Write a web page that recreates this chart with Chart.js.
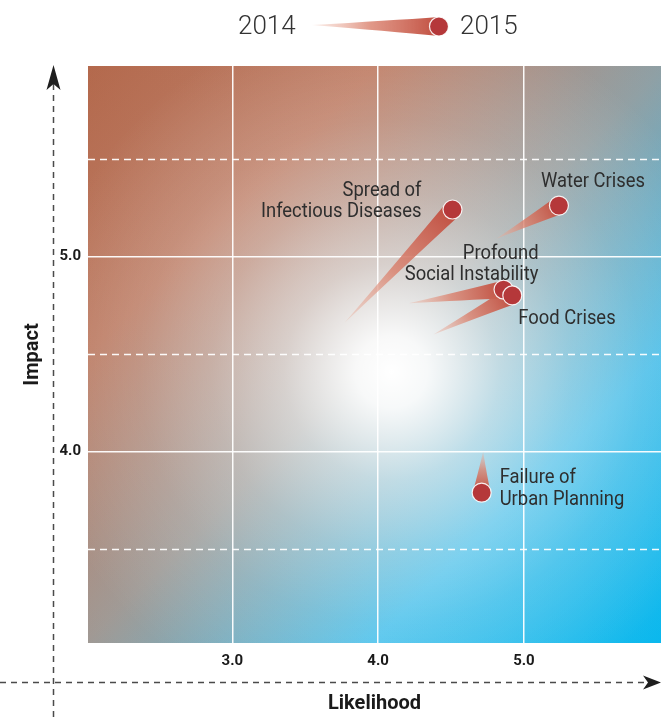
<!DOCTYPE html>
<html><head><meta charset="utf-8">
<script src="https://cdn.jsdelivr.net/npm/chart.js@4.4.1/dist/chart.umd.min.js"></script>
<style>html,body{margin:0;padding:0;background:#fff;overflow:hidden}#wrap{width:661px;height:717px;position:relative}canvas{display:block}</style>
</head><body><div id="wrap"><canvas id="c"></canvas></div>
<script>
// ---- data ----
const risks = [["Spread of", "Infectious Diseases"], ["Water Crises"], ["Profound", "Social Instability"], ["Food Crises"], ["Failure of", "Urban Planning"]];
const likelihood2014 = [3.77, 4.81, 4.21, 4.38, 4.72];
const impact2014     = [4.66, 5.09, 4.76, 4.60, 4.00];
const likelihood2015 = [4.51, 5.24, 4.86, 4.92, 4.71];
const impact2015     = [5.24, 5.26, 4.83, 4.80, 3.79];
const xTicks = [3.0, 4.0, 5.0];
const yTicks = [3.5, 4.0, 4.5, 5.0, 5.5];
const yLabelTicks = [4.0, 5.0];
const years = ["2014", "2015"];
const axisTitles = ["Likelihood", "Impact"];

// ---- styles (layout only) ----
const FONT = 'Roboto,"Liberation Sans",sans-serif';
const labelPlace = [
  {align: 'right', dx: -31, dy: [-14, 7]},
  {align: 'left',  dx: -18, dy: [-19]},
  {align: 'right', dx: 35,  dy: [-31, -10]},
  {align: 'left',  dx: 6,   dy: [29]},
  {align: 'left',  dx: 18,  dy: [-10, 12]}
];
const BALL = '#b5383a';

function drawComet(ctx, x0, y0, x1, y1, r, a0) {
  const dx = x1 - x0, dy = y1 - y0, L = Math.hypot(dx, dy) || 1;
  const nx = -dy / L, ny = dx / L;
  const g = ctx.createLinearGradient(x0, y0, x1, y1);
  g.addColorStop(0, 'rgba(236,180,162,' + a0 + ')');
  g.addColorStop(0.45, 'rgba(218,128,108,0.8)');
  g.addColorStop(1, 'rgba(192,78,64,1)');
  ctx.beginPath();
  ctx.moveTo(x0, y0);
  ctx.quadraticCurveTo(x0 + dx * 0.6 + nx * r * 0.55, y0 + dy * 0.6 + ny * r * 0.55, x1 + nx * r, y1 + ny * r);
  ctx.lineTo(x1 - nx * r, y1 - ny * r);
  ctx.quadraticCurveTo(x0 + dx * 0.6 - nx * r * 0.55, y0 + dy * 0.6 - ny * r * 0.55, x0, y0);
  ctx.closePath();
  ctx.fillStyle = g;
  ctx.fill();
}

const backgroundPlugin = {
  id: 'bg',
  beforeDraw(chart) {
    const {ctx, chartArea: a} = chart;
    const w = a.right - a.left, h = a.bottom - a.top;
    ctx.save();
    const g = ctx.createLinearGradient(a.left, a.top, a.right, a.bottom);
    g.addColorStop(0, '#b5684b');
    g.addColorStop(0.25, '#c07f67');
    g.addColorStop(0.5, '#9fa09e');
    g.addColorStop(0.75, '#4cc2ec');
    g.addColorStop(1, '#05bcf2');
    ctx.fillStyle = g;
    ctx.fillRect(a.left, a.top, w, h);
    const hg = ctx.createLinearGradient(a.left, 0, a.right, 0);
    hg.addColorStop(0, 'rgba(170,110,85,0.14)');
    hg.addColorStop(0.5, 'rgba(160,160,160,0)');
    hg.addColorStop(1, 'rgba(40,160,210,0.14)');
    ctx.fillStyle = hg;
    ctx.fillRect(a.left, a.top, w, h);
    const cx = a.left + 0.53 * w, cy = a.top + 0.53 * h;
    const rg = ctx.createRadialGradient(cx, cy, 0, cx, cy, 360);
    rg.addColorStop(0, 'rgba(255,255,255,1)');
    rg.addColorStop(0.1, 'rgba(255,255,255,0.93)');
    rg.addColorStop(0.3, 'rgba(255,255,255,0.55)');
    rg.addColorStop(0.5, 'rgba(255,255,255,0.3)');
    rg.addColorStop(0.7, 'rgba(255,255,255,0.14)');
    rg.addColorStop(1, 'rgba(255,255,255,0)');
    ctx.fillStyle = rg;
    ctx.fillRect(a.left, a.top, w, h);
    ctx.restore();
  },
  beforeDatasetsDraw(chart) {
    const {ctx, chartArea: a, scales: {x, y}} = chart;
    ctx.save();
    ctx.strokeStyle = 'rgba(255,255,255,0.95)';
    ctx.lineWidth = 1.5;
    ctx.setLineDash([7, 5]);
    yTicks.filter(v => !Number.isInteger(v)).forEach(v => {
      const py = Math.round(y.getPixelForValue(v)) + 0.5;
      ctx.beginPath(); ctx.moveTo(a.left, py); ctx.lineTo(a.right, py); ctx.stroke();
    });
    ctx.setLineDash([]);
    for (let i = 0; i < risks.length; i++) {
      drawComet(ctx, x.getPixelForValue(likelihood2014[i]), y.getPixelForValue(impact2014[i]),
        x.getPixelForValue(likelihood2015[i]), y.getPixelForValue(impact2015[i]), 9, 0.35);
    }
    ctx.restore();
  },
  afterDatasetsDraw(chart) {
    const {ctx, scales: {x, y}} = chart;
    ctx.save();
    ctx.font = '20px ' + FONT;
    ctx.fillStyle = '#2e2e2e';
    ctx.textBaseline = 'alphabetic';
    risks.forEach((lines, i) => {
      const p = labelPlace[i];
      const px = x.getPixelForValue(likelihood2015[i]), py = y.getPixelForValue(impact2015[i]);
      ctx.textAlign = p.align;
      lines.forEach((t, j) => {
        ctx.save();
        ctx.translate(px + p.dx, py + p.dy[j]);
        ctx.scale(0.92, 1);
        ctx.fillText(t, 0, 0);
        ctx.restore();
      });
    });
    ctx.restore();
  },
  afterDraw(chart) {
    const {ctx} = chart;
    ctx.save();
    // axis arrows
    ctx.strokeStyle = '#4a4a4a';
    ctx.lineWidth = 1.5;
    ctx.setLineDash([6, 5]);
    ctx.beginPath(); ctx.moveTo(53.5, 717); ctx.lineTo(53.5, 84); ctx.stroke();
    ctx.beginPath(); ctx.moveTo(0, 682.5); ctx.lineTo(648, 682.5); ctx.stroke();
    ctx.setLineDash([]);
    ctx.fillStyle = '#1e1e1e';
    ctx.beginPath(); ctx.moveTo(53.5, 65); ctx.lineTo(60.5, 90); ctx.lineTo(53.5, 84); ctx.lineTo(46.5, 90); ctx.closePath(); ctx.fill();
    ctx.beginPath(); ctx.moveTo(661, 682.5); ctx.lineTo(643, 675.5); ctx.lineTo(648, 682.5); ctx.lineTo(643, 689.5); ctx.closePath(); ctx.fill();
    // legend
    ctx.font = '300 26px ' + FONT;
    ctx.fillStyle = '#333';
    ctx.textBaseline = 'alphabetic';
    ctx.textAlign = 'left';
    ctx.fillText(years[0], 238, 34);
    ctx.fillText(years[1], 460, 34);
    drawComet(ctx, 312, 25, 439, 26.5, 9.5, 0.25);
    ctx.beginPath(); ctx.arc(439, 26.5, 9.5, 0, Math.PI * 2);
    ctx.fillStyle = BALL; ctx.fill();
    ctx.strokeStyle = 'rgba(255,255,255,0.9)'; ctx.lineWidth = 1.2; ctx.stroke();
    ctx.restore();
  }
};

new Chart(document.getElementById('c'), {
  type: 'scatter',
  data: {
    datasets: [{
      label: years[1],
      data: likelihood2015.map((v, i) => ({x: v, y: impact2015[i]})),
      pointRadius: 9.5,
      pointHoverRadius: 9.5,
      pointBackgroundColor: BALL,
      pointBorderColor: 'rgba(255,255,255,0.9)',
      pointBorderWidth: 1.2
    }]
  },
  options: {
    responsive: true,
    maintainAspectRatio: false,
    animation: false,
    devicePixelRatio: 1,
    layout: {autoPadding: false, padding: {top: 66, left: 0, right: 0, bottom: 0}},
    plugins: {legend: {display: false}, tooltip: {enabled: false}},
    scales: {
      x: {
        type: 'linear', min: 2.01, max: 5.94,
        afterBuildTicks: s => { s.ticks = xTicks.map(v => ({value: v})); },
        afterFit: s => { s.height = 74; s.paddingLeft = 0; s.paddingRight = 0; },
        border: {display: false},
        grid: {color: 'rgba(255,255,255,0.95)', lineWidth: 1.5, drawTicks: false},
        ticks: {padding: 9, color: '#1a1a1a', font: {family: FONT, weight: 'bold', size: 15}, callback: v => Number(v).toFixed(1)},
        title: {display: true, text: axisTitles[0], color: '#1a1a1a', font: {family: FONT, weight: 'bold', size: 20}, padding: {top: 0, bottom: 1}}
      },
      y: {
        type: 'linear', min: 3.02, max: 5.975,
        afterBuildTicks: s => { s.ticks = yTicks.map(v => ({value: v})); },
        afterFit: s => { s.width = 88; s.paddingTop = 0; s.paddingBottom = 0; },
        border: {display: false},
        grid: {color: c => (c.tick && yLabelTicks.includes(c.tick.value)) ? 'rgba(255,255,255,0.95)' : 'rgba(0,0,0,0)', lineWidth: 1.5, drawTicks: false},
        ticks: {padding: 7, color: '#1a1a1a', font: {family: FONT, weight: 'bold', size: 15}, callback: v => yLabelTicks.includes(v) ? Number(v).toFixed(1) : ''},
        title: {display: true, text: axisTitles[1], color: '#1a1a1a', font: {family: FONT, weight: 'bold', size: 20}, padding: {top: 21, bottom: 0}}
      }
    }
  },
  plugins: [backgroundPlugin]
});
</script></body></html>
